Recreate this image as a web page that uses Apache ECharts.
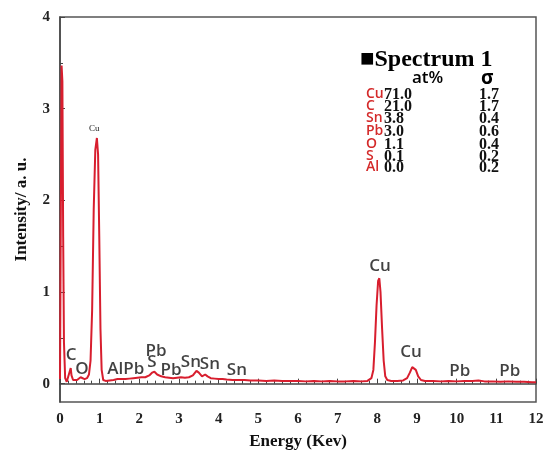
<!DOCTYPE html>
<html>
<head>
<meta charset="utf-8">
<script src="https://cdn.jsdelivr.net/npm/echarts@6/dist/echarts.min.js"></script>
<style>
html,body{margin:0;padding:0;background:#fff;}
#main{width:552px;height:458px;}
</style>
</head>
<body>
<div id="main"></div>
<script>
// Spectrum (energy in keV, intensity in a.u.)
var energy = [0.00,0.02,0.04,0.06,0.08,0.10,0.13,0.17,0.21,0.25,0.27,0.29,0.33,0.38,0.43,0.48,0.52,0.56,0.62,0.68,0.73,0.77,0.81,0.85,0.89,0.93,0.96,0.99,1.02,1.05,1.09,1.15,1.25,1.35,1.45,1.50,1.55,1.65,1.75,1.85,1.95,2.05,2.15,2.25,2.32,2.38,2.45,2.55,2.65,2.75,2.85,2.95,3.05,3.15,3.25,3.35,3.44,3.50,3.58,3.66,3.72,3.80,3.90,4.00,4.10,4.20,4.35,4.50,4.65,4.80,5.00,5.20,5.40,5.60,5.80,6.00,6.20,6.40,6.60,6.80,7.00,7.20,7.40,7.60,7.75,7.85,7.90,7.94,7.98,8.02,8.05,8.08,8.12,8.16,8.20,8.25,8.35,8.50,8.65,8.75,8.82,8.88,8.92,8.97,9.03,9.10,9.20,9.40,9.60,9.80,10.00,10.20,10.40,10.55,10.70,10.90,11.10,11.30,11.50,11.70,11.90,12.00];
var intensity = [0.05,1.80,3.47,3.30,1.60,0.45,0.06,0.02,0.04,0.14,0.17,0.09,0.04,0.03,0.04,0.05,0.07,0.05,0.05,0.06,0.10,0.25,0.80,1.90,2.55,2.68,2.50,1.60,0.60,0.15,0.04,0.03,0.035,0.04,0.05,0.06,0.05,0.05,0.055,0.06,0.065,0.07,0.07,0.09,0.12,0.13,0.10,0.08,0.07,0.065,0.06,0.065,0.07,0.065,0.07,0.09,0.14,0.12,0.08,0.10,0.08,0.06,0.055,0.05,0.05,0.045,0.04,0.04,0.04,0.035,0.035,0.03,0.035,0.03,0.03,0.03,0.025,0.03,0.025,0.03,0.025,0.025,0.03,0.025,0.03,0.06,0.15,0.45,0.85,1.12,1.15,1.00,0.60,0.25,0.08,0.04,0.03,0.03,0.035,0.06,0.12,0.18,0.19,0.15,0.08,0.04,0.03,0.03,0.025,0.03,0.025,0.03,0.03,0.035,0.025,0.025,0.02,0.025,0.02,0.02,0.015,0.015];

// Peak annotations
var peakText = ['C','O','AlPb','Pb','S','Pb','Sn','Sn','Sn','Cu','Cu','Pb','Pb'];
var peakEnergy = [0.28,0.55,1.66,2.42,2.32,2.80,3.30,3.78,4.46,8.07,8.85,10.08,11.34];
var peakIntensity = [0.31,0.16,0.16,0.36,0.24,0.15,0.23,0.21,0.15,1.28,0.34,0.14,0.14];

// Composition table
var elements = ['Cu','C','Sn','Pb','O','S','Al'];
var atPercent = ['71.0','21.0','3.8','3.0','1.1','0.1','0.0'];
var sigma = ['1.7','1.7','0.4','0.6','0.4','0.2','0.2'];

var xTicks = [0,1,2,3,4,5,6,7,8,9,10,11,12];
var yTicks = [0,1,2,3,4];
var yHalfTicks = [0.5,1.5,2.5,3.5];

var serif = '"Liberation Serif","Times New Roman",serif';
var sans = '"Open Sans","Noto Sans",sans-serif';

var lineData = energy.map(function(e,i){return [e,intensity[i]];});
var labelData = peakText.map(function(t,i){return [peakEnergy[i],peakIntensity[i],t];});

var rowY = [95,107,119,132,145,157,168];
var graphics = [
  {type:'text', left:360, top:48, style:{text:'\u25A0Spectrum 1', font:'bold 24px '+serif, fill:'#000'}},
  {type:'text', left:412, top:70, style:{text:'at%', font:'600 17px '+sans, fill:'#000'}},
  {type:'text', left:481, top:69, style:{text:'\u03C3', font:'bold 19px '+sans, fill:'#000'}}
];
elements.forEach(function(el,i){
  graphics.push({type:'text', left:366, top:rowY[i]-8, style:{text:el, font:'600 14px '+sans, fill:'#d42a2a'}});
  graphics.push({type:'text', left:384, top:rowY[i]-8, style:{text:atPercent[i], font:'bold 16px '+serif, fill:'#111'}});
  graphics.push({type:'text', left:479, top:rowY[i]-8, style:{text:sigma[i], font:'bold 16px '+serif, fill:'#111'}});
});
graphics.push({type:'text', left:89, top:124, style:{text:'Cu', font:'9px '+serif, fill:'#222'}});

var chart = echarts.init(document.getElementById('main'));
chart.setOption({
  animation:false,
  backgroundColor:'#fff',
  grid:{left:60, right:16, top:17, bottom:56, show:true, borderColor:'#555', borderWidth:1.5},
  xAxis:{
    type:'value', min:0, max:12, interval:1,
    name:'Energy (Kev)', nameLocation:'middle', nameGap:31,
    nameTextStyle:{fontWeight:'bold', fontSize:17, fontFamily:serif, color:'#111'},
    axisLine:{show:true, lineStyle:{color:'#444', width:1.5}},
    axisTick:{show:true, inside:true, length:5, lineStyle:{color:'#444'}},
    minorTick:{show:true, splitNumber:5, length:3, lineStyle:{color:'#444'}},
    axisLabel:{fontFamily:serif, fontWeight:'bold', fontSize:15, color:'#222', margin:10},
    splitLine:{show:false}
  },
  yAxis:[{
    type:'value', min:-0.2, max:4,
    name:'Intensity/ a. u.', nameLocation:'middle', nameGap:30,
    nameTextStyle:{fontWeight:'bold', fontSize:17, fontFamily:serif, color:'#111'},
    axisLine:{show:true, lineStyle:{color:'#444', width:1.5}},
    axisTick:{show:true, inside:true, length:5, customValues:yTicks, lineStyle:{color:'#444'}},
    axisLabel:{fontFamily:serif, fontWeight:'bold', fontSize:15, color:'#222', margin:10, customValues:yTicks},
    splitLine:{show:false}
  },{
    type:'value', min:-0.2, max:4, position:'left',
    axisLine:{show:false},
    axisTick:{show:true, inside:true, length:3, customValues:yHalfTicks, lineStyle:{color:'#444'}},
    axisLabel:{show:false},
    splitLine:{show:false}
  }],
  graphic:graphics,
  series:[{
    type:'line', data:lineData, showSymbol:false, symbol:'none', smooth:false,
    lineStyle:{color:'#d81e2e', width:2}, z:3
  },{
    type:'scatter', data:labelData, symbolSize:0, silent:true, z:5,
    label:{show:true, position:[0,0], align:'center', verticalAlign:'middle',
      formatter:function(p){return p.data[2];}, fontFamily:sans, fontWeight:600, fontSize:17, color:'#111'}
  }]
});
</script>
</body>
</html>
